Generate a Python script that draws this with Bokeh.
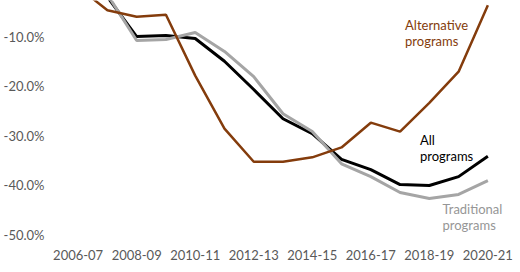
from bokeh.plotting import figure
from bokeh.models import Range1d, FixedTicker, PrintfTickFormatter, Label
from bokeh.embed import file_html
from bokeh.resources import INLINE

years = ["2006-07", "2007-08", "2008-09", "2009-10", "2010-11", "2011-12", "2012-13",
         "2013-14", "2014-15", "2015-16", "2016-17", "2017-18", "2018-19", "2019-20", "2020-21"]
all_programs = [0.0, -2.0, -10.0, -9.8, -10.4, -15.0, -20.7, -26.6, -29.6, -34.8, -36.9, -39.9, -40.1, -38.3, -34.2]
traditional = [0.0, -1.5, -10.8, -10.6, -9.2, -13.0, -18.1, -25.6, -29.2, -35.7, -38.3, -41.5, -42.7, -41.9, -39.1]
alternative = [0.0, -4.7, -6.0, -5.6, -17.9, -28.6, -35.3, -35.3, -34.4, -32.4, -27.4, -29.2, -23.4, -17.1, -3.7]
y_ticks = [-50, -40, -30, -20, -10]

xs = list(range(len(years)))

p = figure(width=520, height=272, output_backend="svg", toolbar_location=None,
           x_range=Range1d(-0.5, len(years) - 0.5), y_range=Range1d(-52.01, -2.72),
           min_border_left=61, min_border_right=18, min_border_top=0, min_border_bottom=28)
p.outline_line_color = None
p.background_fill_color = "white"
p.border_fill_color = "white"
p.xgrid.grid_line_color = None
p.ygrid.grid_line_color = None

font = "Lato"
for ax in (p.xaxis, p.yaxis):
    ax.axis_line_color = None
    ax.major_tick_line_color = None
    ax.minor_tick_line_color = None
    ax.major_label_text_font = font
    ax.major_label_text_font_size = "13px"
    ax.major_label_text_color = "#595959"

p.yaxis.ticker = FixedTicker(ticks=y_ticks)
p.yaxis.formatter = PrintfTickFormatter(format="%.1f%%")
p.yaxis.major_label_standoff = 13

p.xaxis.ticker = FixedTicker(ticks=xs[::2])
p.xaxis.major_label_overrides = {i: years[i] for i in xs}
p.xaxis.major_label_standoff = -1

p.line(xs, all_programs, line_color="#000000", line_width=3)
p.line(xs, traditional, line_color="#A5A5A5", line_width=3)
p.line(xs, alternative, line_color="#843C0C", line_width=2.5)

def add_label(x, y, text, color):
    p.add_layout(Label(x=x, y=y, text=text, text_color=color, text_font=font,
                       text_font_size="13px", text_baseline="middle", text_align="left"))

add_label(11.17, -7.7, "Alternative", "#843C0C")
add_label(11.17, -10.9, "programs", "#843C0C")
add_label(11.68, -31.0, "All", "#000000")
add_label(11.68, -34.2, "programs", "#000000")
add_label(12.45, -44.8, "Traditional", "#969696")
add_label(12.45, -48.0, "programs", "#969696")

open("out.html", "w").write(file_html(p, INLINE))
